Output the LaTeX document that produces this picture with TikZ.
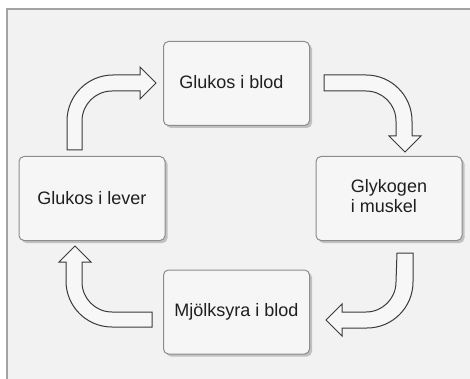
\documentclass[tikz,border=0pt]{standalone}
\usepackage{fontspec}
\setmainfont{Liberation Sans}
\usetikzlibrary{shadows}
\definecolor{panel}{HTML}{F2F2F2}
\definecolor{frameline}{HTML}{A3A3A3}
\definecolor{boxfill}{HTML}{F6F6F6}
\definecolor{boxline}{HTML}{8C8C8C}
\definecolor{arrowline}{HTML}{3A3A3A}
\tikzset{
  stage/.style={draw=boxline, line width=1pt, fill=boxfill, rounded corners=5pt,
    minimum width=146pt, minimum height=84pt, inner sep=0pt,
    font=\fontsize{18}{21}\selectfont, text=black!88,
    drop shadow={shadow xshift=2.5pt, shadow yshift=-2.5pt, opacity=0.35, fill=black!60}},
  blockarrow/.style={draw=arrowline, line width=1pt, fill=white!97!black, line join=miter}
}
\begin{document}
\begin{tikzpicture}[x=1pt, y=-1pt]
\useasboundingbox (0,0) rectangle (470,379);
% panel behind the cycle
\fill[panel] (7,9) rectangle (470,379);
\draw[frameline, line width=2pt] (7,379) -- (7,9) -- (470,9);

% the four stages
\node[stage] (blod) at (236.5,83.5) {\raisebox{3pt}{Glukos i blod\hspace{10pt}}};
\node[stage] (lever) at (92,198.5) {Glukos i lever\hspace{10pt}};
\node[stage] (glyk) at (389,198.5) {\begin{tabular}{@{}l@{}}Glykogen\\[-1pt] i muskel\end{tabular}};
\node[stage] (mjolk) at (236.5,312) {\raisebox{-5pt}{Mjölksyra i blod}};

% block arrows: shaft between radius 30 and 46 around each bend
% lever -> blod
\draw[blockarrow] (67,150) -- (67,121) arc[start angle=180, end angle=270, radius=46]
  -- (140,75) -- (140,67) -- (156,83) -- (140,99) -- (140,91) -- (112,91)
  arc[start angle=270, end angle=180, radius=30] -- (82,150) -- cycle;
% blod -> glyk
\draw[blockarrow] (324,75) -- (366,75) arc[start angle=270, end angle=360, radius=46]
  -- (412,136) -- (421,136) -- (405,152) -- (389,136) -- (396,136) -- (396,121)
  arc[start angle=360, end angle=270, radius=30] -- (324,91) -- cycle;
% glyk -> mjolk
\draw[blockarrow] (413,253) -- (413,282) arc[start angle=0, end angle=90, radius=46]
  -- (342,328) -- (342,336) -- (326,320) -- (342,304) -- (342,312) -- (366,312)
  arc[start angle=90, end angle=0, radius=30] -- (397,253) -- cycle;
% mjolk -> lever
\draw[blockarrow] (152,327) -- (112,327) arc[start angle=90, end angle=180, radius=46]
  -- (66,262) -- (59,262) -- (75,246) -- (91,262) -- (82,262) -- (82,282)
  arc[start angle=180, end angle=90, radius=30] -- (152,312) -- cycle;
\end{tikzpicture}
\end{document}
